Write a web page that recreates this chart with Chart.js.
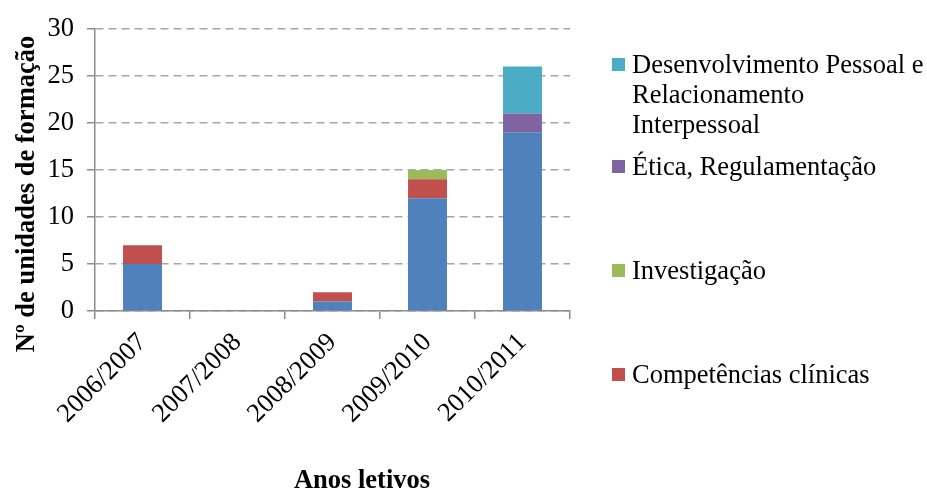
<!DOCTYPE html>
<html lang="pt">
<head>
<meta charset="utf-8">
<title>Unidades de formação por ano letivo</title>
<script src="https://cdn.jsdelivr.net/npm/chart.js@4/dist/chart.umd.min.js"></script>
<style>
  html, body { margin: 0; padding: 0; background: #ffffff; }
  #wrap { position: relative; width: 927px; height: 492px; overflow: hidden; }
  #chart { position: absolute; left: 0; top: 0; }
  .legend-item {
    position: absolute;
    left: 612px;
    font-family: "Liberation Serif", "Times New Roman", serif;
    font-size: 26.5px;
    line-height: 30px;
    color: #000;
    white-space: pre;
  }
  .legend-item .swatch {
    position: absolute;
    left: 0;
    top: 9px;
    width: 13px;
    height: 13px;
  }
  .legend-item .text { margin-left: 20px; }
</style>
</head>
<body>
<div id="wrap">
  <canvas id="chart" width="927" height="492"></canvas>
</div>
<script>
// Anos letivos (categorias do eixo X)
const anosLetivos = ['2006/2007', '2007/2008', '2008/2009', '2009/2010', '2010/2011'];

// Nº de unidades de formação por área, em cada ano letivo
const outrasAreas = [5, 0, 1, 12, 19];
const competenciasClinicas = [2, 0, 1, 2, 0];
const investigacao = [0, 0, 0, 1, 0];
const eticaRegulamentacao = [0, 0, 0, 0, 2];
const desenvolvimentoPessoal = [0, 0, 0, 0, 5];

// Marcas do eixo Y
const yTicks = [0, 5, 10, 15, 20, 25, 30];

const nomes = {
  outras: 'Outras áreas',
  competencias: 'Competências clínicas',
  investigacao: 'Investigação',
  etica: 'Ética, Regulamentação',
  desenvolvimento: 'Desenvolvimento Pessoal e\nRelacionamento\nInterpessoal'
};

const cores = {
  outras: '#4F81BD',
  competencias: '#C0504D',
  investigacao: '#9BBB59',
  etica: '#8064A2',
  desenvolvimento: '#4BACC6'
};

const serif = '"Liberation Serif", "Times New Roman", serif';
const fontSize = 26.5;

function serie(key, values, inLegend) {
  return {
    label: nomes[key],
    data: values,
    backgroundColor: cores[key],
    borderWidth: 0,
    barPercentage: 0.41,
    categoryPercentage: 1,
    inLegend: inLegend
  };
}

// Títulos dos eixos
const axisTitlesPlugin = {
  id: 'axisTitles',
  afterDraw(chart) {
    const ctx = chart.ctx;
    ctx.save();
    ctx.font = 'bold ' + fontSize + 'px ' + serif;
    ctx.fillStyle = '#000';
    ctx.textAlign = 'center';

    ctx.textBaseline = 'alphabetic';
    ctx.fillText('Anos letivos', 362, 488);

    ctx.translate(27, 194);
    ctx.rotate(-Math.PI / 2);
    ctx.textBaseline = 'middle';
    ctx.fillText('Nº de unidades de formação', 0, 0);
    ctx.restore();
  }
};

const chart = new Chart(document.getElementById('chart'), {
  type: 'bar',
  data: {
    labels: anosLetivos,
    datasets: [
      serie('outras', outrasAreas, false),
      serie('competencias', competenciasClinicas, true),
      serie('investigacao', investigacao, true),
      serie('etica', eticaRegulamentacao, true),
      serie('desenvolvimento', desenvolvimentoPessoal, true)
    ]
  },
  options: {
    responsive: false,
    animation: false,
    layout: { padding: { left: 0, right: 357, top: 28, bottom: 0 } },
    plugins: {
      legend: { display: false },
      tooltip: { enabled: false }
    },
    scales: {
      x: {
        stacked: true,
        afterFit(scale) { scale.height = 181; },
        grid: {
          display: true,
          drawOnChartArea: false,
          offset: true,
          color: '#8c8c8c',
          lineWidth: 1.5,
          tickLength: 8
        },
        border: { display: true, color: '#8c8c8c', width: 1.5 },
        ticks: {
          autoSkip: false,
          minRotation: 45,
          maxRotation: 45,
          padding: 8,
          color: '#000',
          font: { family: serif, size: fontSize }
        }
      },
      y: {
        stacked: true,
        min: 0,
        max: 30,
        afterFit(scale) { scale.width = 95; },
        afterBuildTicks(scale) { scale.ticks = yTicks.map(v => ({ value: v })); },
        grid: {
          color: '#a6a6a6',
          lineWidth: 1.5,
          tickBorderDash: [],
          tickColor: '#8c8c8c',
          tickLength: 8
        },
        border: { display: true, color: '#8c8c8c', width: 1.5, dash: [8, 5] },
        ticks: {
          padding: 13,
          color: '#000',
          font: { family: serif, size: fontSize }
        }
      }
    }
  },
  plugins: [axisTitlesPlugin]
});

// Legenda à direita, da série do topo para a da base
const legendTops = [49, 151, 255, 359];
const wrap = document.getElementById('wrap');
chart.data.datasets
  .filter(ds => ds.inLegend)
  .reverse()
  .forEach((ds, i) => {
    const item = document.createElement('div');
    item.className = 'legend-item';
    item.style.top = legendTops[i] + 'px';
    const sw = document.createElement('span');
    sw.className = 'swatch';
    sw.style.background = ds.backgroundColor;
    const tx = document.createElement('div');
    tx.className = 'text';
    tx.textContent = ds.label;
    item.appendChild(sw);
    item.appendChild(tx);
    wrap.appendChild(item);
  });
</script>
</body>
</html>
